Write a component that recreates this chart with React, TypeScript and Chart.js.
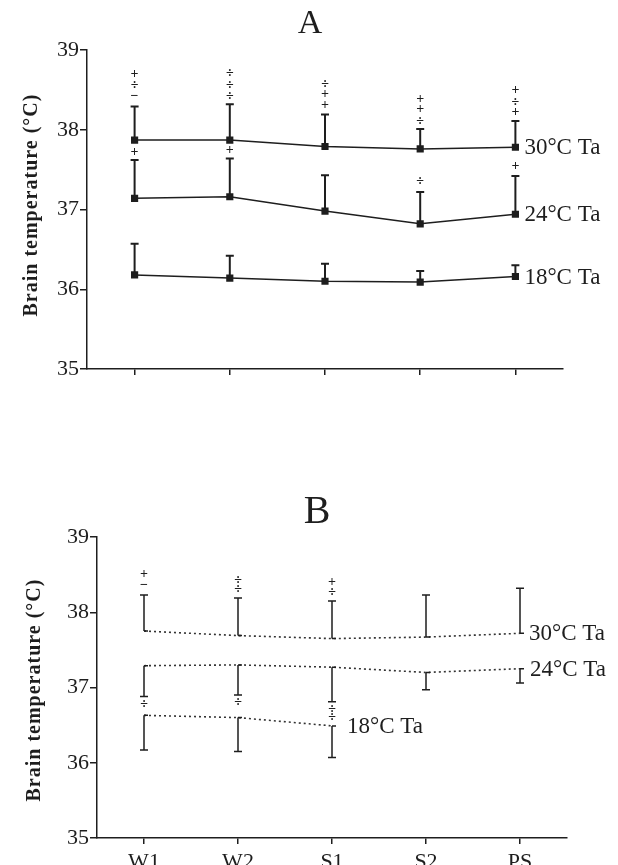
import React, { useEffect, useRef } from 'react';
import { Chart, registerables } from 'chart.js';

Chart.register(...registerables);

// ---------- shared ----------
const categories = ['W1', 'W2', 'S1', 'S2', 'PS'];
const yMin = 35;
const yMax = 39;
const axisTitle = 'Brain temperature (°C)';

// ---------- Panel A (means with upper SE) ----------
const a30Mean = [37.87, 37.87, 37.79, 37.76, 37.78];
const a30Upper = [38.29, 38.32, 38.19, 38.01, 38.11];
const a24Mean = [37.14, 37.16, 36.98, 36.82, 36.94];
const a24Upper = [37.62, 37.64, 37.43, 37.22, 37.42];
const a18Mean = [36.18, 36.14, 36.1, 36.09, 36.16];
const a18Upper = [36.57, 36.42, 36.32, 36.23, 36.3];

const aSigCat = ['W1', 'W1', 'W1', 'W1', 'W2', 'W2', 'W2', 'W2', 'S1', 'S1', 'S1', 'S2', 'S2', 'S2', 'S2', 'PS', 'PS', 'PS', 'PS'];
const aSigValue = [38.42, 38.56, 38.69, 37.72, 38.42, 38.56, 38.71, 37.74, 38.31, 38.44, 38.57, 38.11, 38.25, 38.38, 37.35, 38.22, 38.34, 38.49, 37.54];
const aSigSymbol = ['−', '÷', '+', '+', '÷', '÷', '÷', '+', '+', '+', '÷', '÷', '+', '+', '÷', '+', '÷', '+', '+'];

// ---------- Panel B (means with SE) ----------
const b30Mean = [37.75, 37.69, 37.65, 37.67, 37.72];
const b30Upper = [38.23, 38.19, 38.15, 38.23, 38.32];
const b24Mean = [37.29, 37.3, 37.27, 37.2, 37.25];
const b24Lower = [36.88, 36.9, 36.81, 36.97, 37.06];
const b18Mean = [36.63, 36.6, 36.49, null, null];
const b18Lower = [36.17, 36.15, 36.07, null, null];

const bSigCat = ['W1', 'W1', 'W1', 'W2', 'W2', 'W2', 'S1', 'S1', 'S1', 'S1'];
const bSigValue = [38.36, 38.5, 36.78, 38.3, 38.42, 36.8, 38.27, 38.4, 36.71, 36.6];
const bSigSymbol = ['−', '+', '÷', '÷', '÷', '÷', '÷', '+', '÷', '÷'];

const INK = '#1e1e1e';
const SERIF = '"Liberation Serif", "DejaVu Serif", serif';

type Bar = { mean: (number | null)[]; end: (number | null)[] };
type Lab = { text: string; values: (number | null)[]; index: number; dx: number };

function makeOverlay(bars: Bar[], sigCat: string[], sigValue: number[], sigSymbol: string[], labels: Lab[], barWidth: number) {
  return {
    id: 'overlay',
    afterDatasetsDraw(chart: any) {
      const ctx = chart.ctx;
      const xs = chart.scales.x;
      const ys = chart.scales.y;
      ctx.save();
      ctx.strokeStyle = INK;
      ctx.fillStyle = INK;
      ctx.lineWidth = barWidth;
      bars.forEach((b) => {
        b.mean.forEach((m, i) => {
          const e = b.end[i];
          if (m == null || e == null) return;
          const x = xs.getPixelForValue(i);
          const y0 = ys.getPixelForValue(m);
          const y1 = ys.getPixelForValue(e);
          ctx.beginPath();
          ctx.moveTo(x, y0);
          ctx.lineTo(x, y1);
          ctx.moveTo(x - 4, y1);
          ctx.lineTo(x + 4, y1);
          ctx.stroke();
        });
      });
      ctx.font = 'bold 14px ' + SERIF;
      ctx.textAlign = 'center';
      ctx.textBaseline = 'middle';
      sigCat.forEach((c, k) => {
        const x = xs.getPixelForValue(categories.indexOf(c));
        const y = ys.getPixelForValue(sigValue[k]);
        ctx.fillText(sigSymbol[k], x, y);
      });
      ctx.font = '23px ' + SERIF;
      ctx.textAlign = 'left';
      labels.forEach((l) => {
        const v = l.values[l.index];
        if (v == null) return;
        const x = xs.getPixelForValue(l.index) + l.dx;
        const y = ys.getPixelForValue(v);
        ctx.fillText(l.text, x, y + 1);
      });
      ctx.restore();
    },
  };
}

function scaleOptions(showXLabels: boolean, yWidth: number, xHeight: number) {
  return {
    x: {
      type: 'category',
      offset: true,
      afterFit: (s: any) => { s.height = xHeight; },
      grid: { display: true, drawOnChartArea: false, drawTicks: true, tickLength: 6, color: INK, lineWidth: 1.5, offset: false },
      border: { display: true, color: INK, width: 1.5 },
      ticks: { display: showXLabels, color: INK, font: { family: SERIF, size: 22 }, padding: 5, maxRotation: 0, autoSkip: false },
    },
    y: {
      type: 'linear',
      min: yMin,
      max: yMax,
      afterFit: (s: any) => { s.width = yWidth; },
      grid: { display: true, drawOnChartArea: false, drawTicks: true, tickLength: 7, color: INK, lineWidth: 1.5 },
      border: { display: true, color: INK, width: 1.5 },
      ticks: { stepSize: 1, color: INK, font: { family: SERIF, size: 22 }, padding: 1 },
    },
  };
}

function PanelA() {
  const ref = useRef<HTMLCanvasElement>(null);
  useEffect(() => {
    const line = (data: number[]) => ({
      data,
      borderColor: INK,
      backgroundColor: INK,
      borderWidth: 1.5,
      pointStyle: 'rect',
      pointRadius: 4,
      tension: 0,
    });
    const chart = new Chart(ref.current!, {
      type: 'line',
      data: { labels: categories, datasets: [line(a30Mean), line(a24Mean), line(a18Mean)] },
      options: {
        responsive: false,
        animation: false,
        devicePixelRatio: 1,
        layout: { padding: { left: 0, right: 55, top: 50, bottom: 0 } },
        plugins: { legend: { display: false }, tooltip: { enabled: false } },
        scales: scaleOptions(false, 87, 430 - 369) as any,
      },
      plugins: [
        makeOverlay(
          [
            { mean: a30Mean, end: a30Upper },
            { mean: a24Mean, end: a24Upper },
            { mean: a18Mean, end: a18Upper },
          ],
          aSigCat, aSigValue, aSigSymbol,
          [
            { text: '30°C Ta', values: a30Mean, index: 4, dx: 9 },
            { text: '24°C Ta', values: a24Mean, index: 4, dx: 9 },
            { text: '18°C Ta', values: a18Mean, index: 4, dx: 9 },
          ],
          2
        ),
      ],
    });
    return () => chart.destroy();
  }, []);
  return <canvas ref={ref} width={618} height={430} style={{ position: 'absolute', left: 0, top: 0 }} />;
}

function PanelB() {
  const ref = useRef<HTMLCanvasElement>(null);
  useEffect(() => {
    const line = (data: (number | null)[]) => ({
      data,
      borderColor: '#333',
      backgroundColor: INK,
      borderWidth: 1.6,
      borderDash: [2, 3],
      pointStyle: 'dash',
      pointRadius: 4,
      pointBorderWidth: 1.5,
      pointBorderColor: INK,
      tension: 0,
      spanGaps: false,
    });
    const chart = new Chart(ref.current!, {
      type: 'line',
      data: { labels: categories, datasets: [line(b30Mean), line(b24Mean), line(b18Mean)] },
      options: {
        responsive: false,
        animation: false,
        devicePixelRatio: 1,
        layout: { padding: { left: 0, right: 51, top: 537 - 430, bottom: 0 } },
        plugins: { legend: { display: false }, tooltip: { enabled: false } },
        scales: scaleOptions(true, 97, 865 - 838) as any,
      },
      plugins: [
        makeOverlay(
          [
            { mean: b30Mean, end: b30Upper },
            { mean: b24Mean, end: b24Lower },
            { mean: b18Mean, end: b18Lower },
          ],
          bSigCat, bSigValue, bSigSymbol,
          [
            { text: '30°C Ta', values: b30Mean, index: 4, dx: 9 },
            { text: '24°C Ta', values: b24Mean, index: 4, dx: 10 },
            { text: '18°C Ta', values: b18Mean, index: 2, dx: 15 },
          ],
          1.5
        ),
      ],
    });
    return () => chart.destroy();
  }, []);
  return <canvas ref={ref} width={618} height={435} style={{ position: 'absolute', left: 0, top: 430 }} />;
}

const titleStyle = (x: number, y: number, size: number): React.CSSProperties => ({
  position: 'absolute',
  left: x - 50,
  top: y - size * 0.6,
  width: 100,
  textAlign: 'center',
  fontFamily: SERIF,
  fontSize: size,
  lineHeight: `${size * 1.2}px`,
  color: INK,
});

const yTitleStyle = (cx: number, cy: number): React.CSSProperties => ({
  position: 'absolute',
  left: cx - 150,
  top: cy - 13,
  width: 300,
  height: 26,
  lineHeight: '26px',
  textAlign: 'center',
  fontFamily: SERIF,
  fontWeight: 'bold',
  fontSize: 20,
  letterSpacing: '1px',
  color: INK,
  transform: 'rotate(-90deg)',
  whiteSpace: 'nowrap',
});

export default function App() {
  return (
    <div style={{ position: 'absolute', left: 0, top: 0, width: 618, height: 865, background: '#fff', overflow: 'hidden' }}>
      <PanelA />
      <PanelB />
      <div style={titleStyle(310, 22, 34)}>A</div>
      <div style={titleStyle(317, 510, 40)}>B</div>
      <div style={yTitleStyle(30, 205)}>{axisTitle}</div>
      <div style={yTitleStyle(33, 690)}>{axisTitle}</div>
    </div>
  );
}
